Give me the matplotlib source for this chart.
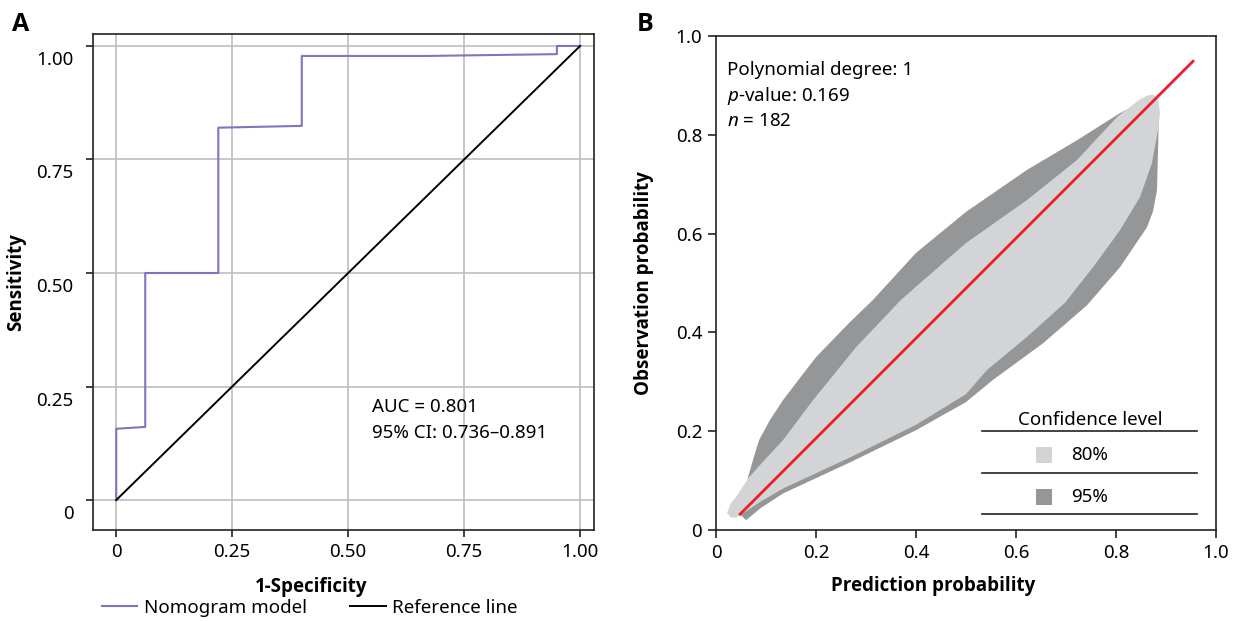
import numpy as np
import matplotlib
matplotlib.use('Agg')
import matplotlib.pyplot as plt
from matplotlib.transforms import ScaledTranslation
from matplotlib.patches import Rectangle
from matplotlib.lines import Line2D

plt.rcParams['font.family'] = ['Noto Sans', 'DejaVu Sans']
plt.rcParams['mathtext.fontset'] = 'custom'
plt.rcParams['mathtext.rm'] = 'Noto Sans'
plt.rcParams['mathtext.it'] = 'Noto Sans:italic'

# ---- 数据：ROC 曲线 (A) ----
fpr = [0, 0, 0.0625, 0.0625, 0.22, 0.22, 0.40, 0.40, 0.67, 0.95, 0.95, 1.0]
tpr = [0, 0.157, 0.161, 0.5, 0.5, 0.82, 0.824, 0.978, 0.978, 0.982, 1.0, 1.0]
ref_x = [0, 1]
ref_y = [0, 1]
roc_ticks = [0, 0.25, 0.50, 0.75, 1.00]
roc_ticklabels = ['0', '0.25', '0.50', '0.75', '1.00']

# ---- 数据：校准曲线 (B) ----
fit_x = [0.048, 0.954]
fit_y = [0.032, 0.949]
# 95% 置信带轮廓
ci95_x = [0.05, 0.064, 0.074, 0.086, 0.108, 0.134, 0.168, 0.2, 0.266, 0.314, 0.4, 0.5, 0.622, 0.722,
          0.808, 0.845, 0.866, 0.878, 0.885, 0.885, 0.882, 0.874, 0.862, 0.808, 0.742, 0.654, 0.554,
          0.5, 0.4, 0.266, 0.2, 0.134, 0.09, 0.06]
ci95_y = [0.03, 0.107, 0.142, 0.182, 0.223, 0.263, 0.308, 0.35, 0.419, 0.466, 0.561, 0.644, 0.729, 0.789,
          0.844, 0.862, 0.872, 0.872, 0.85, 0.81, 0.688, 0.645, 0.613, 0.532, 0.455, 0.378, 0.304,
          0.259, 0.202, 0.136, 0.105, 0.074, 0.045, 0.02]
# 80% 置信带轮廓
ci80_x = [0.03, 0.022, 0.03, 0.04, 0.066, 0.1, 0.134, 0.194, 0.28, 0.37, 0.5, 0.622, 0.722, 0.802,
          0.848, 0.862, 0.874, 0.884, 0.888, 0.884, 0.872, 0.848, 0.808, 0.754, 0.698, 0.622, 0.542,
          0.5, 0.4, 0.266, 0.2, 0.134, 0.09, 0.054, 0.04]
ci80_y = [0.025, 0.035, 0.055, 0.067, 0.107, 0.145, 0.182, 0.263, 0.37, 0.466, 0.581, 0.668, 0.749, 0.836,
          0.872, 0.879, 0.882, 0.872, 0.844, 0.81, 0.743, 0.674, 0.607, 0.532, 0.46, 0.391, 0.324,
          0.275, 0.213, 0.146, 0.115, 0.084, 0.058, 0.034, 0.025]
calib_ticks = [0, 0.2, 0.4, 0.6, 0.8, 1.0]
calib_ticklabels = ['0', '0.2', '0.4', '0.6', '0.8', '1.0']

roc_color = '#7b76c2'
light_gray = '#d3d4d6'
dark_gray = '#959697'
red = '#e8202a'
fs = 13.5
bold_font = 'Open Sans'

fig = plt.figure(figsize=(12.44, 6.21), dpi=100)
ax1 = fig.add_axes([0.0748, 0.1465, 0.4027, 0.7985])
ax2 = fig.add_axes([0.5756, 0.1465, 0.4019, 0.7955])

#---------------------------------------------------------------------------------------------#
# A: ROC
#---------------------------------------------------------------------------------------------#
ax1.plot(fpr, tpr, color=roc_color, lw=1.5, zorder=3)
ax1.plot(ref_x, ref_y, color='black', lw=1.4, zorder=3)
ax1.set_xlim(-0.05, 1.03)
ax1.set_ylim(-0.066, 1.026)
ax1.set_xticks(roc_ticks)
ax1.set_xticklabels(roc_ticklabels)
ax1.set_yticks(roc_ticks)
ax1.set_yticklabels(roc_ticklabels)
ax1.grid(True, color='#bdbdbd', lw=1.2, zorder=0)
ax1.set_axisbelow(True)
ax1.tick_params(direction='out', length=5, width=1.2, labelsize=fs, pad=4, color='#222222')
ax1.tick_params(axis='y', pad=9)
for sp in ax1.spines.values():
    sp.set_linewidth(1.2)
    sp.set_color('#222222')
# y 轴刻度标签略微下移
for lab in ax1.get_yticklabels():
    lab.set_transform(lab.get_transform() + ScaledTranslation(0, -0.12, fig.dpi_scale_trans))
ax1.set_xlabel('1-Specificity', fontsize=fs, fontweight='bold', family=bold_font)
ax1.xaxis.set_label_coords(0.435, -0.095)
ax1.set_ylabel('Sensitivity', fontsize=fs, fontweight='bold', family=bold_font)
ax1.yaxis.set_label_coords(-0.134, 0.5)
ax1.text(0.552, 0.205, 'AUC = 0.801', fontsize=fs, va='center', ha='left')
ax1.text(0.552, 0.148, '95% CI: 0.736–0.891', fontsize=fs, va='center', ha='left')

handles = [Line2D([], [], color=roc_color, lw=1.5), Line2D([], [], color='black', lw=1.4)]
fig.legend(handles, ['Nomogram model', 'Reference line'], loc='center', bbox_to_anchor=(0.249, 0.021),
           ncol=2, frameon=False, fontsize=fs, handlelength=1.9, handletextpad=0.35,
           columnspacing=2.3, borderpad=0)

fig.text(0.0096, 0.96, 'A', fontsize=18, fontweight='bold', family=bold_font, va='center')
fig.text(0.512, 0.96, 'B', fontsize=18, fontweight='bold', family=bold_font, va='center')

#---------------------------------------------------------------------------------------------#
# B: 校准曲线
#---------------------------------------------------------------------------------------------#
ax2.fill(ci95_x, ci95_y, color=dark_gray, lw=0, zorder=1)
ax2.fill(ci80_x, ci80_y, color=light_gray, lw=0, zorder=2)
ax2.plot(fit_x, fit_y, color=red, lw=2, zorder=3)
ax2.set_xlim(0, 1)
ax2.set_ylim(0, 1)
ax2.set_xticks(calib_ticks)
ax2.set_xticklabels(calib_ticklabels)
ax2.set_yticks(calib_ticks)
ax2.set_yticklabels(calib_ticklabels)
ax2.tick_params(direction='out', length=6, width=1.2, labelsize=fs, pad=4, color='#222222')
for sp in ax2.spines.values():
    sp.set_linewidth(1.2)
    sp.set_color('#222222')
ax2.set_xlabel('Prediction probability', fontsize=fs, fontweight='bold', family=bold_font)
ax2.xaxis.set_label_coords(0.434, -0.093)
ax2.set_ylabel('Observation probability', fontsize=fs, fontweight='bold', family=bold_font)
ax2.yaxis.set_label_coords(-0.124, 0.5)

ax2.text(0.022, 0.931, 'Polynomial degree: 1', transform=ax2.transAxes, fontsize=fs, va='center')
ax2.text(0.022, 0.879, '$p$-value: 0.169', transform=ax2.transAxes, fontsize=fs, va='center')
ax2.text(0.022, 0.828, '$n$ = 182', transform=ax2.transAxes, fontsize=fs, va='center')

# 置信水平图例（表格样式）
ax2.text(0.748, 0.223, 'Confidence level', transform=ax2.transAxes, fontsize=fs, ha='center', va='center')
for yy in [0.2, 0.115, 0.032]:
    ax2.plot([0.532, 0.962], [yy, yy], transform=ax2.transAxes, color='#222222', lw=1.2, clip_on=False)
for yy, col, lab in [(0.152, light_gray, '80%'), (0.067, dark_gray, '95%')]:
    ax2.add_patch(Rectangle((0.64, yy - 0.016), 0.032, 0.032, transform=ax2.transAxes,
                            color=col, lw=0))
    ax2.text(0.71, yy, lab, transform=ax2.transAxes, fontsize=fs, va='center')

fig.savefig('out.png', dpi=100)
